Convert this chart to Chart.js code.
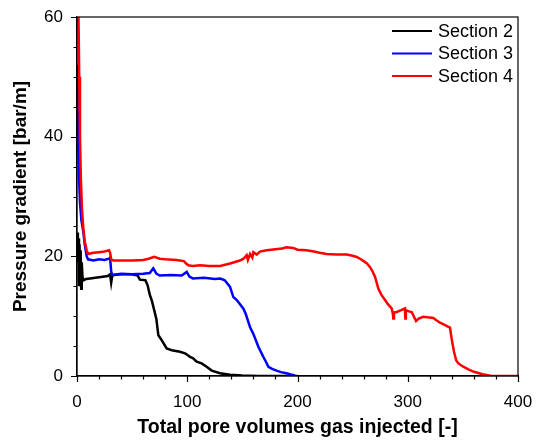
<!DOCTYPE html>
<html>
<head>
<meta charset="utf-8">
<script src="https://cdn.jsdelivr.net/npm/chart.js@4/dist/chart.umd.min.js"></script>
<style>
  html, body { margin: 0; padding: 0; background: #fff; }
  #wrap { width: 543px; height: 442px; }
</style>
</head>
<body>
<div id="wrap"><canvas id="c"></canvas></div>
<script>
// Section 2
const s2X = [0.3, 0.8, 1.3, 1.8, 2.3, 2.8, 3.3, 3.8, 4.3, 5, 6, 8, 12, 20, 28, 30, 31, 32, 34, 40, 50, 55, 57, 62, 64,
  66, 68, 70.7, 72, 73.8, 76.8, 81.3, 86, 93.4, 98, 102.5, 105, 108.6, 113, 117.6, 122.2, 129.7, 138.8, 150, 165, 200];
const s2Y = [24, 19, 23, 15, 22, 16, 21, 14.6, 19, 16.5, 16, 16.2, 16.3, 16.5, 16.7, 17, 15.6, 16.8, 16.9, 17, 17, 16.8, 16.1, 16, 15.2,
  13.6, 12.5, 10.5, 9.5, 6.8, 6, 4.6, 4.3, 4.05, 3.8, 3.2, 3, 2.4, 2.1, 1.55, 0.9, 0.45, 0.2, 0.08, 0.02, 0];

// Section 3
const s3X = [0.5, 1, 1.7, 2.7, 4, 5.8, 7, 8.8, 10, 15, 20, 25, 29, 30, 31, 32, 40, 50, 60, 66, 69.2, 72, 75, 85, 95, 99.5,
  102, 105, 115, 125, 130, 134, 138.8, 141.8, 144.9, 150.8, 153, 156.9, 160, 164.5, 169, 171, 173.6, 177, 181, 185, 190, 194, 197.7];
const s3Y = [52, 42, 34, 29, 26, 24, 22, 20, 19.5, 19.3, 19.5, 19.4, 19.6, 19.8, 17.5, 16.9, 17.1, 17, 17.1, 17.2, 18, 17.1, 16.8, 16.9, 16.8, 17.4,
  16.6, 16.3, 16.4, 16.2, 16.3, 16, 14.9, 13.2, 12.7, 11.3, 10.4, 8.2, 7, 4.9, 3.2, 2.5, 1.55, 1.2, 0.9, 0.65, 0.45, 0.25, 0.1];

// Section 4
const s4X = [0.5, 1.5, 2, 2.7, 3.5, 4.5, 5.7, 7, 8.8, 10, 15, 20, 25, 29, 30, 31, 33, 40, 50, 60, 65, 70, 75, 80, 90, 97, 99, 101,
  105, 111.6, 120, 130, 138.8, 147.8, 151, 153.9, 155, 157, 159, 160, 163, 166, 172, 180, 186, 190, 196, 200, 208, 215, 220, 226.5,
  235, 244.6, 250, 253.7, 256.7, 260, 263, 265.8, 268, 270.3, 273.3, 276, 279.4, 282, 285.4, 286.5, 286.9, 287.5, 290, 294, 297.5, 297.8, 298.3,
  301, 303.6, 307.5, 310, 314, 318, 323.2, 326, 329.3, 333, 336, 338.3, 340, 342, 344, 346, 350, 355, 360, 368, 375, 380, 400];
const s4Y = [70, 58, 50, 40, 33, 28, 24.8, 22.5, 21, 20.4, 20.6, 20.7, 20.8, 21, 20.6, 19.5, 19.3, 19.3, 19.3, 19.4, 19.6, 19.9, 19.6, 19.5, 19.4, 19.2, 18.8, 18.5,
  18.4, 18.5, 18.4, 18.4, 18.8, 19.3, 19.6, 20.2, 19.4, 20.4, 19.8, 20.7, 20.3, 20.8, 21, 21.2, 21.3, 21.5, 21.4, 21.1, 21, 20.8, 20.6, 20.4,
  20.3, 20.3, 20.1, 19.9, 19.6, 19.2, 18.8, 18.2, 17.5, 16.6, 14.6, 13.6, 12.7, 12, 11.3, 10.4, 9.6, 10.6, 10.7, 11, 11.3, 9.6, 11,
  10.8, 10.7, 9.2, 9.6, 9.9, 9.8, 9.7, 9.3, 8.9, 8.6, 8.3, 8.1, 6, 4, 2.6, 2.1, 1.6, 1.1, 0.7, 0.3, 0.05, 0, 0];

const seriesLabels = ["Section 2", "Section 3", "Section 4"];
const seriesColors = ["#000000", "#0000ff", "#ff0000"];
const yTicks = [0, 20, 40, 60];
const xTicks = [0, 100, 200, 300, 400];

const pts = (xs, ys) => xs.map((x, i) => ({ x, y: ys[i] }));
const FONT = "'Liberation Sans', Arial, sans-serif";

// tick marks outside the axes, major and minor, plus the frame on top and right
const frameTicks = {
  id: "frameTicks",
  afterDraw(c) {
    const { ctx, chartArea: a, scales: { x, y } } = c;
    ctx.save();
    ctx.strokeStyle = "#000";
    ctx.lineWidth = 1.2;
    ctx.strokeRect(a.left, a.top, a.right - a.left, a.bottom - a.top);
    ctx.beginPath();
    for (let v = 0; v <= 60; v += 5) {
      const py = Math.round(y.getPixelForValue(v)) + 0.5;
      const len = v % 20 === 0 ? 6 : 3.5;
      ctx.moveTo(a.left, py);
      ctx.lineTo(a.left - len, py);
    }
    for (let v = 0; v <= 400; v += 20) {
      const px = Math.round(x.getPixelForValue(v)) + 0.5;
      const len = v % 100 === 0 ? 6 : 3.5;
      ctx.moveTo(px, a.bottom);
      ctx.lineTo(px, a.bottom + len);
    }
    ctx.stroke();
    ctx.restore();
  }
};

// legend lines in the top-right corner of the plot
const cornerLegend = {
  id: "cornerLegend",
  afterDraw(c) {
    const { ctx, chartArea: a } = c;
    ctx.save();
    ctx.font = "18px " + FONT;
    ctx.textBaseline = "middle";
    c.data.datasets.forEach((ds, i) => {
      const yy = a.top + 14 + i * 22.5;
      ctx.strokeStyle = ds.borderColor;
      ctx.lineWidth = 2;
      ctx.beginPath();
      ctx.moveTo(a.right - 126, yy);
      ctx.lineTo(a.right - 86, yy);
      ctx.stroke();
      ctx.fillStyle = "#000";
      ctx.fillText(ds.label, a.right - 80, yy + 1);
    });
    ctx.restore();
  }
};

const lineDs = (i, xs, ys, order) => ({
  label: seriesLabels[i],
  data: pts(xs, ys),
  borderColor: seriesColors[i],
  borderWidth: 2.5,
  pointRadius: 0,
  tension: 0,
  fill: false,
  order
});

new Chart(document.getElementById("c"), {
  type: "line",
  data: {
    datasets: [
      lineDs(0, s2X, s2Y, 3),
      lineDs(1, s3X, s3Y, 2),
      lineDs(2, s4X, s4Y, 1)
    ]
  },
  options: {
    responsive: true,
    maintainAspectRatio: false,
    animation: false,
    layout: { padding: { top: 17, right: 25, left: 0, bottom: 0 } },
    plugins: { legend: { display: false }, tooltip: { enabled: false } },
    scales: {
      x: {
        type: "linear",
        min: 0,
        max: 400,
        afterFit: (s) => { s.height = 66; s.paddingLeft = 0; s.paddingRight = 0; },
        afterBuildTicks: (s) => { s.ticks = xTicks.map((v) => ({ value: v })); },
        grid: { display: false, drawTicks: false },
        border: { display: true, color: "#000", width: 1.2 },
        ticks: { padding: 16, color: "#000", font: { family: FONT, size: 17 } },
        title: {
          display: true,
          text: "Total pore volumes gas injected [-]",
          color: "#000",
          font: { family: FONT, size: 19.5, weight: "bold" },
          padding: { top: 0, bottom: 3 }
        }
      },
      y: {
        min: 0,
        max: 60,
        afterFit: (s) => { s.width = 77; s.paddingTop = 0; s.paddingBottom = 0; },
        afterBuildTicks: (s) => { s.ticks = yTicks.map((v) => ({ value: v })); },
        grid: { display: false, drawTicks: false },
        border: { display: true, color: "#000", width: 1.2 },
        ticks: { padding: 14, color: "#000", font: { family: FONT, size: 17 } },
        title: {
          display: true,
          text: "Pressure gradient [bar/m]",
          color: "#000",
          font: { family: FONT, size: 19, weight: "bold" },
          padding: { top: 9, bottom: 0 }
        }
      }
    }
  },
  plugins: [frameTicks, cornerLegend]
});
</script>
</body>
</html>
